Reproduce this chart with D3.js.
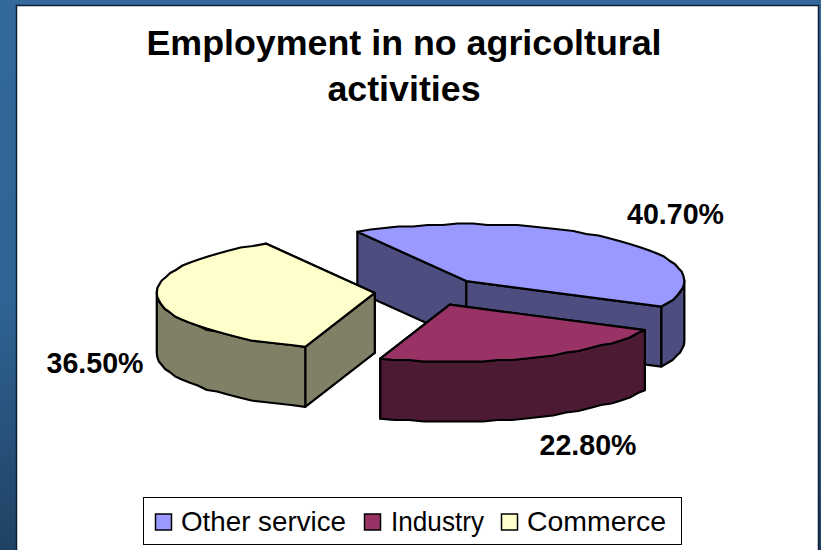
<!DOCTYPE html>
<html>
<head>
<meta charset="utf-8">
<script src="https://cdn.jsdelivr.net/npm/d3@7"></script>
<style>
  html, body { margin: 0; padding: 0; background: #2f6799; }
  svg { display: block; }
  text { font-family: "Liberation Sans", Arial, sans-serif; fill: #000; }
</style>
</head>
<body>
<svg id="chart" width="821" height="550"></svg>
<script>
const TITLE_LINES = ["Employment in no agricoltural", "activities"];
const CATEGORIES = ["Other service", "Industry", "Commerce"];
const VALUES = [40.7, 22.8, 36.5];
const VALUE_LABELS = ["40.70%", "22.80%", "36.50%"];
const TOP_COLORS = ["#9999ff", "#993366", "#ffffcc"];
const SIDE_COLORS = ["#4d4d80", "#4c1a33", "#808066"];

const WIDTH = 821, HEIGHT = 550;
const EXPLODE = 0.25;   // how far the slices are pulled out, in pie radii
const DEPTH = 60;
const DEG = Math.PI / 180;

const svg = d3.select("#chart");

// page background and white panel
const grad = svg.append("defs").append("linearGradient")
  .attr("id", "bg").attr("x1", 0).attr("y1", 0).attr("x2", 0).attr("y2", 1);
grad.append("stop").attr("offset", "0%").attr("stop-color", "#33699b");
grad.append("stop").attr("offset", "55%").attr("stop-color", "#2f6393");
grad.append("stop").attr("offset", "100%").attr("stop-color", "#1f4264");

svg.append("rect").attr("width", WIDTH).attr("height", HEIGHT).attr("fill", "url(#bg)");
svg.append("rect")
  .attr("x", 16.5).attr("y", 5.5).attr("width", 802).attr("height", 560)
  .attr("fill", "#fff").attr("stroke", "#0d1f30").attr("stroke-width", 1.5);

// title
svg.selectAll(".title").data(TITLE_LINES).join("text")
  .attr("class", "title")
  .attr("x", 404)
  .attr("y", (d, i) => 55 + i * 46)
  .attr("text-anchor", "middle")
  .style("font-size", "35.8px")
  .style("font-weight", "bold")
  .text(d => d);

// squashed pie: unit circle mapped onto an ellipse
const xScale = d3.scaleLinear().domain([-1, 1]).range([429 - 218, 429 + 218]);
const yScale = d3.scaleLinear().domain([-1, 1]).range([291.5 + 57, 291.5 - 57]);

const arcs = d3.pie().sort(null).startAngle(-30 * DEG).endAngle(330 * DEG)(VALUES);

function project(a, r, mid) {
  return [
    xScale(EXPLODE * Math.sin(mid) + r * Math.sin(a)),
    yScale(EXPLODE * Math.cos(mid) + r * Math.cos(a))
  ];
}

// the original has stepped, faceted rims, so inner points snap to a small grid
function arcPoints(a0, a1, mid) {
  const n = Math.max(1, Math.round((a1 - a0) / (4 * DEG)));
  return d3.range(n + 1).map(i => {
    const p = project(a0 + (a1 - a0) * i / n, 1, mid);
    if (i === 0 || i === n) return p;
    return [p[0], Math.round(p[1] / 1.5) * 1.5];
  });
}

const line = d3.line();
const drop = p => [p[0], p[1] + DEPTH];

function drawSlice(d) {
  const i = d.index;
  const mid = (d.startAngle + d.endAngle) / 2;
  const g = svg.append("g").attr("class", "slice");
  const apex = project(0, 0, mid);
  const rim = arcPoints(d.startAngle, d.endAngle, mid);

  const face = (pts, fill) => g.append("path")
    .attr("d", line(pts) + "Z")
    .attr("fill", fill)
    .attr("stroke", "#000")
    .attr("stroke-width", 2.2)
    .attr("stroke-linejoin", "round");

  // the two cut walls, the one further back first
  [rim[0], rim[rim.length - 1]].sort((a, b) => a[1] - b[1]).forEach(p => {
    face([apex, p, drop(p), drop(apex)], SIDE_COLORS[i]);
  });

  // outer wall, front half of the ellipse only
  const a0 = Math.max(d.startAngle, 90 * DEG);
  const a1 = Math.min(d.endAngle, 270 * DEG);
  if (a1 > a0) {
    const front = arcPoints(a0, a1, mid);
    face(front.concat(front.map(drop).reverse()), SIDE_COLORS[i]);
  }

  // top
  face([apex].concat(rim), TOP_COLORS[i]);
}

// back to front
[0, 2, 1].forEach(i => drawSlice(arcs[i]));

// value labels
const labelX = [675.5, 588, 95];
const labelY = [224, 455, 373];
svg.selectAll(".value").data(VALUE_LABELS).join("text")
  .attr("class", "value")
  .attr("x", (d, i) => labelX[i])
  .attr("y", (d, i) => labelY[i])
  .attr("text-anchor", "middle")
  .style("font-size", "28.6px")
  .style("font-weight", "bold")
  .text(d => d);

// legend
svg.append("rect")
  .attr("x", 143.5).attr("y", 497.5).attr("width", 538).attr("height", 47)
  .attr("fill", "#fff").attr("stroke", "#000").attr("stroke-width", 1);

const swatchX = [155, 364, 501];
const legendTextX = [181, 391, 527];
const legendTextW = [165, 93, 139];
const legend = svg.selectAll(".legend").data(CATEGORIES).join("g").attr("class", "legend");
legend.append("rect")
  .attr("x", (d, i) => swatchX[i] + 0.5)
  .attr("y", 514)
  .attr("width", 16)
  .attr("height", 16)
  .attr("fill", (d, i) => TOP_COLORS[i])
  .attr("stroke", "#000")
  .attr("stroke-width", 1.5);
legend.append("text")
  .attr("x", (d, i) => legendTextX[i])
  .attr("y", 531)
  .attr("textLength", (d, i) => legendTextW[i])
  .attr("lengthAdjust", "spacingAndGlyphs")
  .style("font-size", "27.5px")
  .text(d => d);
</script>
</body>
</html>
